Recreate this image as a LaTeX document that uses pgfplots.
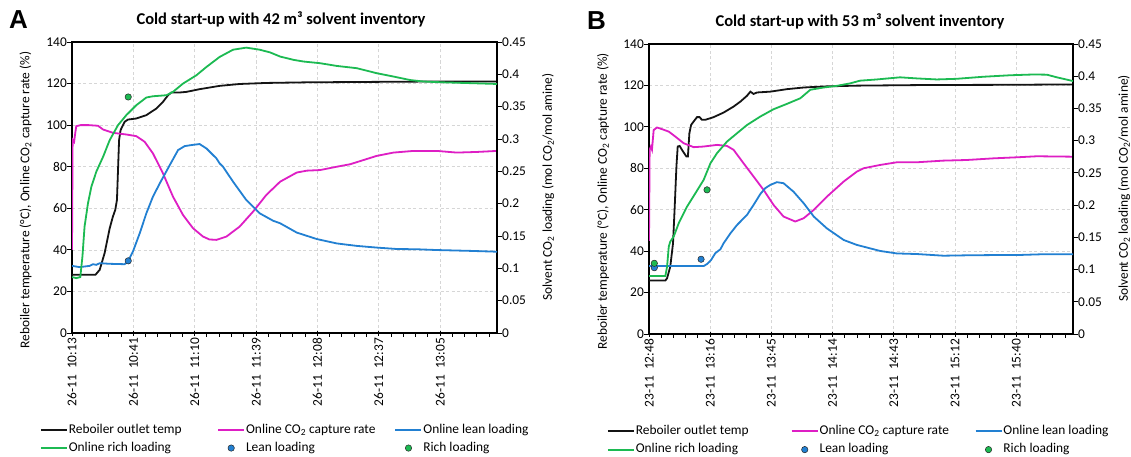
\documentclass[border=0pt]{standalone}
\usepackage{fontspec}
\setmainfont{Carlito}
\newfontfamily\arialf{Liberation Sans}
\usepackage{pgfplots}
\pgfplotsset{compat=1.18}
\definecolor{cblk}{RGB}{20,20,20}
\definecolor{cmag}{RGB}{222,30,196}
\definecolor{cblu}{RGB}{34,128,210}
\definecolor{cgrn}{RGB}{28,186,82}
\newcommand\fs{\fontsize{13.4}{16}\selectfont}
\tikzset{
  blk/.style={color=cblk, line width=1.8pt},
  mag/.style={color=cmag, line width=1.8pt},
  blu/.style={color=cblu, line width=1.8pt},
  grn/.style={color=cgrn, line width=1.8pt},
}
\pgfplotsset{
  base/.style={scale only axis, width=425pt, height=291pt, xmin=0, xmax=199.5,
    font=\fs, /pgf/number format/assume math mode=true,
    tick align=outside, major tick length=5pt, minor tick length=3.5pt,
    tick style={black, line width=1pt}},
  mainax/.style={base, ymin=0, ymax=140, ytick={0,20,40,60,80,100,120,140},
    xtick={0,28.8,57.6,86.4,115.2,144,172.8},
    minor xtick={5.76,11.52,17.28,23.04,34.56,40.32,46.08,51.84,63.36,69.12,74.88,80.64,92.16,97.92,103.68,109.44,120.96,126.72,132.48,138.24,149.76,155.52,161.28,167.04,178.56,184.32,190.08,195.84},
    major x tick style={yshift=2.5pt},
    xtick pos=left, ytick pos=left,
    grid=major, major grid style={dash pattern=on 3pt off 2.5pt, black!16, line width=0.7pt},
    axis line style={line width=1.3pt, black},
    xticklabel style={rotate=90, anchor=east, inner sep=0pt},
    yticklabel style={inner xsep=0pt},
    ylabel={Reboiler temperature (°C), Online CO\textsubscript{2} capture rate (\%)}},
  secax/.style={base, ymin=0, ymax=0.45, ytick={0,0.05,0.1,0.15,0.2,0.25,0.3,0.35,0.4,0.45},
    axis x line=none, axis y line*=right,
    y axis line style={line width=1.3pt, black},
    yticklabel style={inner xsep=0pt, /pgf/number format/fixed, /pgf/number format/precision=2},
    ylabel={Solvent CO\textsubscript{2} loading (mol CO\textsubscript{2}/mol amine)},
    legend columns=3,
    legend style={draw=none, fill=none, inner sep=0pt, outer sep=0pt,
      /tikz/column sep=0pt, /tikz/row sep=6.8pt,
      nodes={inner sep=0pt, text height=9pt, text depth=2.5pt}, cells={anchor=west}},
    legend image code/.code={\path (0pt,0pt) (26pt,0pt); \draw[##1] (0pt,0pt) -- (26pt,0pt);}},
  dot/.style={only marks, mark=*, mark size=3.2pt, mark options={draw=black!85, fill=#1, line width=0.5pt},
    legend image code/.code={\path (0pt,0pt) (26pt,0pt); \draw[##1] plot coordinates {(13pt,0pt)};}},
}
\newcommand\leA[1]{\makebox[149.5pt][l]{\hspace{1pt}#1}}
\newcommand\leB[1]{\makebox[156pt][l]{\hspace{1pt}#1}}
\begin{document}
\begin{tikzpicture}
\path[use as bounding box] (0,0) rectangle (1131pt,456pt);
\fill[white] (0,0) rectangle (1131pt,456pt);
% panel letters and titles
\node[anchor=base west, inner sep=0pt, font=\arialf\bfseries\fontsize{26}{30}\selectfont] at (9pt,427.7pt) {A};
\node[anchor=base west, inner sep=0pt, font=\arialf\bfseries\fontsize{26}{30}\selectfont] at (587pt,426pt) {B};
\node[anchor=base, inner sep=0pt, font=\bfseries\fontsize{16.5}{20}\selectfont] at (281pt,431pt) {Cold start-up with 42 m³ solvent inventory};
\node[anchor=base, inner sep=0pt, font=\bfseries\fontsize{16.5}{20}\selectfont] at (860pt,429pt) {Cold start-up with 53 m³ solvent inventory};
% ===== Panel A =====
\begin{axis}[mainax, at={(72pt,123pt)}, anchor=south west,
  xticklabels={{26-11\hspace{0.45em}10:13},{26-11\hspace{0.45em}10:41},{26-11\hspace{0.45em}11:10},{26-11\hspace{0.45em}11:39},{26-11\hspace{0.45em}12:08},{26-11\hspace{0.45em}12:37},{26-11\hspace{0.45em}13:05}},
  ylabel style={at={(axis description cs:-0.1094,0.457)}, anchor=center}]
\addplot[blk] coordinates {(0,28) (11,28) (13,30.4) (15.3,38.4) (17.7,50.4) (19.2,56) (20.3,59.2) (21.1,64) (22.1,92.8) (22.8,97.6) (24.7,101.6) (26.3,102.7) (30.2,103.2) (34.9,104.8) (39.6,108) (42.7,111.2) (45.1,114.4) (46.6,115.7) (50.5,115.7) (53.7,116) (59.9,117.3) (69.3,118.9) (78.7,119.8) (91.2,120.3) (110,120.6) (140,120.8) (170,121) (199.5,121)};
\addplot[mag] coordinates {(0,40) (0.3,93) (1,92) (1.5,96) (2,99.5) (4,100) (8,100) (12.2,99.7) (14.6,97.9) (19.2,96.3) (25.5,95.5) (30.2,94.7) (34.1,92) (38,86.4) (42.7,76.8) (47.4,65.6) (52.1,56.8) (56.8,50.4) (61.5,46.4) (64.5,45) (67.8,44.8) (72.5,46.4) (78.7,51.2) (85,58.4) (91.2,66.4) (97.7,72.8) (105.5,77.2) (110.2,78.1) (116.5,78.4) (124.3,80) (130.6,81.2) (136.8,83.2) (143,85.2) (150.9,86.8) (160.3,87.6) (171.3,87.6) (180.6,86.8) (190,87.1) (199.5,87.6)};
\end{axis}
\begin{axis}[secax, at={(72pt,123pt)}, anchor=south west,
  ylabel style={at={(axis description cs:1.12,0.5017)}, anchor=center},
  legend style={at={(axis description cs:-0.0753,-0.3127)}, anchor=north west}]
\addlegendimage{blk}\addlegendentry{\leA{Reboiler outlet temp}}
\addlegendimage{mag}\addlegendentry{\leA{Online CO\textsubscript{2} capture rate}}
\addplot[blu] coordinates {(0,0.1038) (3.6,0.1019) (8.3,0.1038) (9.9,0.1064) (11.4,0.1054) (13,0.1080) (17.7,0.1070) (24.7,0.1064) (26.3,0.1106) (28.6,0.1260) (31.8,0.1543) (34.9,0.1851) (38,0.2109) (41.2,0.2314) (45.9,0.2597) (49.8,0.2829) (52.9,0.2890) (56,0.2906) (59.9,0.2922) (63.1,0.2854) (67.8,0.2700) (69.3,0.2623) (70.9,0.2571) (75.6,0.2340) (81.8,0.2057) (88.1,0.1851) (94.4,0.1736) (97.7,0.1697) (105.5,0.1553) (114.9,0.1453) (124.3,0.1385) (133.7,0.1347) (143,0.1321) (152.5,0.1299) (161.9,0.1295) (171.3,0.1283) (186.9,0.1270) (199.5,0.1257)};
\addlegendentry{\leA{Online lean loading}}
\addplot[grn] coordinates {(0,0.0865) (2,0.0849) (3.9,0.0865) (4.9,0.1183) (5.9,0.1646) (7.5,0.2006) (9.1,0.2263) (11.4,0.2494) (14.6,0.2726) (17.7,0.2983) (21.6,0.3214) (25.5,0.3369) (30.2,0.3523) (34.9,0.3642) (38,0.3661) (44.3,0.3677) (47.4,0.3729) (52.1,0.3857) (58.4,0.3986) (63.1,0.4114) (69.3,0.4269) (75.6,0.4381) (81.8,0.4413) (88.1,0.4381) (93,0.4339) (97.7,0.4275) (104,0.4224) (108.7,0.4198) (116.5,0.4172) (124.3,0.4130) (133.7,0.4095) (143,0.4018) (150.9,0.3966) (158.7,0.3912) (165,0.3889) (174.4,0.3876) (186.9,0.3864) (199.5,0.3851)};
\addlegendentry{\leA{Online rich loading}}
\addplot[dot=cblu] coordinates {(26.4,0.1116)};
\addlegendentry{\leA{Lean loading}}
\addplot[dot=cgrn] coordinates {(26.4,0.365)};
\addlegendentry{\leA{Rich loading}}
\end{axis}
% ===== Panel B =====
\begin{axis}[mainax, at={(649pt,122pt)}, anchor=south west, width=424pt, height=290pt,
  xticklabels={{23-11\hspace{0.45em}12:48},{23-11\hspace{0.45em}13:16},{23-11\hspace{0.45em}13:45},{23-11\hspace{0.45em}14:14},{23-11\hspace{0.45em}14:43},{23-11\hspace{0.45em}15:12},{23-11\hspace{0.45em}15:40}},
  ylabel style={at={(axis description cs:-0.1085,0.457)}, anchor=center}]
\addplot[blk] coordinates {(0,25.8) (7.7,25.8) (8.5,26.9) (10,32.5) (11.3,43.8) (12.1,61.5) (12.9,80.8) (13.5,90.5) (14.4,90.8) (16,88.1) (17.6,85.7) (18.3,85.7) (19,96.9) (19.8,100.9) (21,102.6) (22.6,104.7) (23.8,104.7) (24.9,103.4) (26.5,103.4) (30.4,104.7) (35.1,106.9) (39.8,109.8) (43,112.2) (46.1,115) (47.7,117) (49.2,115.9) (50.8,116.6) (57.1,117) (64.9,118.2) (72.8,119) (82.2,119.5) (97.8,119.9) (130,120.2) (170,120.3) (199.5,120.5)};
\addplot[mag] coordinates {(0,45) (0.3,88.9) (0.9,90.5) (1.4,89) (2.2,98.5) (3.8,99.7) (6.1,98.9) (9.3,97.7) (12.4,95.3) (16.3,92.1) (21,90.2) (25.7,90.5) (32,91.3) (36.7,90.8) (39.8,88.9) (44.5,82.4) (49.2,76) (53.9,69.6) (58.6,62.3) (63.3,56.7) (68.8,54.3) (72.8,55.9) (77.5,59.9) (83.7,66.3) (91.6,73.6) (97.8,78.4) (100.9,80) (108.7,81.6) (116.6,82.9) (126,82.9) (138.5,83.7) (149.5,84) (162.1,84.8) (173,85.3) (182.5,85.8) (199.5,85.6)};
\end{axis}
\begin{axis}[secax, at={(649pt,122pt)}, anchor=south west, width=424pt, height=290pt,
  ylabel style={at={(axis description cs:1.1203,0.5017)}, anchor=center},
  legend style={at={(axis description cs:-0.099,-0.3157)}, anchor=north west}]
\addlegendimage{blk}\addlegendentry{\leB{Reboiler outlet temp}}
\addlegendimage{mag}\addlegendentry{\leB{Online CO\textsubscript{2} capture rate}}
\addplot[blu] coordinates {(0,0.1054) (25.7,0.1054) (27.3,0.1086) (29.2,0.1148) (31.2,0.1254) (33.6,0.1315) (35.1,0.1408) (38.3,0.1562) (41.4,0.1691) (46.1,0.1848) (49.2,0.2003) (52.4,0.2173) (54.7,0.2263) (57.1,0.2314) (60.2,0.2356) (63.3,0.2340) (68,0.2208) (72.8,0.2028) (77.5,0.1823) (83.7,0.1639) (91.6,0.1459) (97.8,0.1382) (100.9,0.1356) (108.7,0.1289) (116.6,0.1250) (126,0.1241) (138.5,0.1215) (149.5,0.1221) (162.1,0.1225) (173,0.1225) (185.6,0.1238) (199.5,0.1238)};
\addlegendentry{\leB{Online lean loading}}
\addplot[grn] coordinates {(0,0.0900) (7.7,0.0900) (8.5,0.1045) (9.3,0.1356) (10,0.1434) (11.6,0.1511) (14,0.1720) (17.9,0.1977) (21.8,0.2183) (25.7,0.2391) (28.9,0.2649) (32,0.2806) (36.7,0.2986) (41.4,0.3115) (46.1,0.3243) (52.4,0.3375) (58.6,0.3488) (64.9,0.3571) (71.2,0.3658) (75.9,0.3790) (82.2,0.3825) (88.4,0.3851) (94.6,0.3889) (99.3,0.3931) (107.2,0.3950) (118.1,0.3983) (126,0.3966) (135.4,0.3950) (144.8,0.3960) (157.4,0.3992) (169.9,0.4015) (180.9,0.4027) (187.2,0.4024) (191.9,0.3983) (199.5,0.3925)};
\addlegendentry{\leB{Online rich loading}}
\addplot[dot=cblu] coordinates {(2.5,0.1029) (24.5,0.116)};
\addlegendentry{\leB{Lean loading}}
\addplot[dot=cgrn] coordinates {(2.5,0.1097) (27.3,0.2237)};
\addlegendentry{\leB{Rich loading}}
\end{axis}
\end{tikzpicture}
\end{document}
